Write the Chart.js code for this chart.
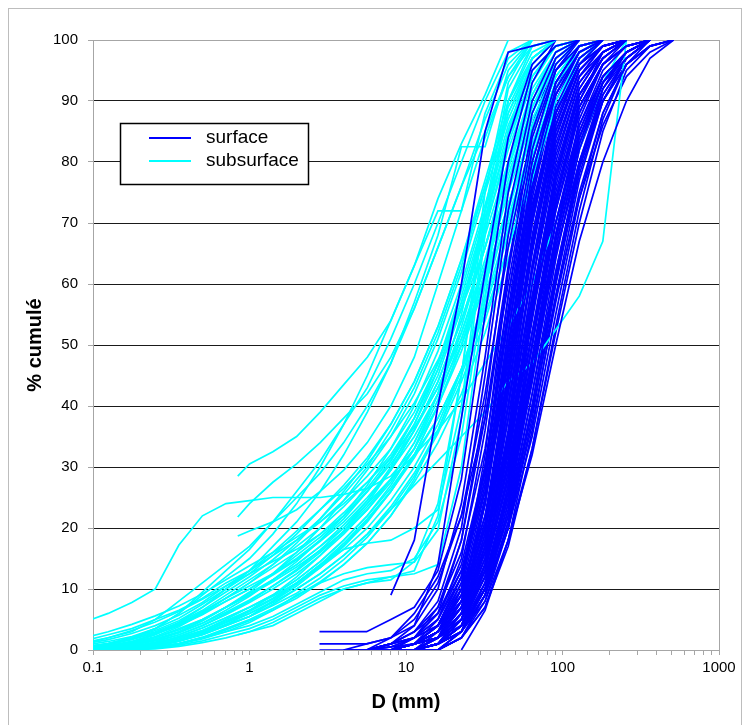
<!DOCTYPE html>
<html>
<head>
<meta charset="utf-8">
<title>Courbes granulométriques</title>
<script src="https://cdn.jsdelivr.net/npm/chart.js@4.4.1/dist/chart.umd.min.js"></script>
<style>
  html, body { margin: 0; padding: 0; background: #fff; }
  #wrap { width: 743px; height: 725px; }
</style>
</head>
<body>
<div id="wrap"><canvas id="gradChart" width="743" height="725"></canvas></div>
<script>
// Cumulative grain-size curves, surface vs subsurface samples
const _ = null;

// sieve sizes (mm)
const surfaceSizes = [2.8, 4, 5.6, 8, 11.3, 16, 22.6, 32, 45, 64, 90.5, 128, 181, 256, 362, 512];
const subsurfaceSizes = [0.088, 0.125, 0.177, 0.25, 0.354, 0.5, 0.707, 0.841, 1, 1.41, 2, 2.83, 4, 5.66, 8, 11.3, 16, 22.6, 32, 45, 64, 90.5, 128, 181, 256];

// % cumulé per surface sample (aligned on surfaceSizes)
const surfacePct = [
  [_, _, _, 9, 18, 40, 60, 85, 98, 99, 100],
  [_, _, 0, 1, 4, 14, 38, 62, 84, 96, 100],
  [3, 3, 3, 5, 7, 13, 28, 55, 80, 95, 99, 100],
  [1, 1, 1, 2, 4, 10, 24, 48, 75, 93, 100],
  [0, 0, 0, 0.5, 2, 6, 18, 40, 68, 88, 97, 100],
  [_, 0, 1, 2, 5, 11, 22, 42, 66, 85, 96, 100],
  [_, _, 0, 1, 3, 8, 20, 45, 72, 90, 98, 100],
  [_, _, 0, 0, 1, 5, 15, 36, 62, 84, 95, 99, 100],
  [_, _, _, 0, 2, 6, 14, 30, 55, 78, 92, 98, 100],
  [_, _, _, 0, 1, 4, 12, 28, 52, 76, 91, 98, 100],
  [_, 0, 0, 1, 3, 7, 16, 33, 58, 80, 93, 99, 100],
  [_, _, 0, 2, 6, 12, 22, 38, 60, 82, 95, 100],
  [_, _, _, 0, 1, 3, 9, 24, 48, 72, 89, 97, 100],
  [_, _, _, _, 0, 2, 8, 22, 45, 70, 88, 96, 99, 100],
  [_, _, _, 0, 0, 2, 7, 19, 40, 65, 85, 95, 99, 100],
  [_, _, _, _, 0, 1, 5, 16, 38, 63, 83, 94, 98, 100],
  [_, _, _, 0, 1, 3, 10, 26, 50, 73, 88, 96, 100],
  [_, _, 0, 0.5, 2, 5, 13, 29, 54, 78, 93, 99, 100],
  [_, _, _, 0, 0, 2, 6, 17, 36, 60, 80, 93, 98, 100],
  [_, _, _, _, 0, 1, 4, 14, 33, 57, 79, 92, 98, 100],
  [_, _, _, 0, 1, 2, 6, 15, 31, 54, 76, 90, 97, 100],
  [_, _, _, 0, 0, 1, 5, 13, 29, 50, 72, 88, 96, 99, 100],
  [_, _, _, _, 0, 1, 3, 10, 26, 48, 70, 86, 95, 99, 100],
  [_, _, _, 0, 1, 3, 7, 16, 30, 50, 70, 85, 94, 98, 100],
  [_, _, _, _, 0, 0, 3, 11, 24, 44, 66, 83, 93, 98, 100],
  [_, _, _, _, _, 0, 2, 8, 20, 40, 62, 80, 92, 97, 100],
  [_, _, _, _, 0, 1, 4, 12, 27, 47, 68, 84, 93, 97, 100],
  [_, _, _, _, _, _, 0, 6.5, 18, 32, 50, 67, 80, 90, 97, 100],
  [_, _, _, 0, 1, 4, 10, 22, 40, 62, 82, 94, 99, 100],
  [_, _, _, 0, 0, 2, 8, 20, 42, 67, 86, 96, 100],
  [_, _, 0, 1, 2, 4, 9, 20, 38, 58, 78, 91, 97, 100],
  [_, _, _, 0, 1, 2, 5, 12, 25, 45, 68, 87, 96, 100],
  [_, _, _, _, 0, 1, 4, 10, 22, 42, 64, 82, 93, 98, 100],
  [_, _, _, 0, 0, 3, 11, 30, 58, 82, 95, 100],
  [_, _, _, 0, 2, 7, 18, 38, 63, 85, 96, 100],
  [_, _, _, _, 0, 2, 10, 32, 62, 86, 97, 100],
  [_, _, _, _, 0, 1, 6, 24, 52, 78, 93, 99, 100],
  [_, _, _, 0, 1, 3, 8, 20, 44, 70, 88, 97, 100],
  [_, _, _, _, _, 0, 3, 14, 34, 58, 78, 91, 97, 100],
  [_, _, _, 0, 0, 1, 4, 10, 20, 35, 55, 74, 88, 96, 99, 100],
  [_, _, 0, 1, 2, 4, 8, 18, 35, 55, 74, 88, 96, 99, 100],
  [_, _, _, 0, 1, 3, 8, 18, 33, 52, 70, 84, 93, 98, 100],
  [_, _, _, _, 0, 1, 5, 15, 32, 56, 77, 91, 97, 100],
  [_, _, _, 0, 0, 2, 6, 18, 38, 62, 81, 93, 98, 100],
  [_, 0, 0, 0, 1, 4, 12, 30, 56, 80, 93, 98, 100],
  [_, _, _, 0, 1, 2, 6, 14, 28, 48, 68, 83, 93, 98, 100],
  [_, _, _, 0, 1, 3, 9, 25, 50, 75, 91, 98, 100],
  [_, _, _, _, 0, 2, 7, 21, 45, 70, 88, 97, 100],
  [_, _, 0, 0, 1, 4, 11, 27, 52, 76, 92, 99, 100],
  [_, _, _, 0, 0, 1, 5, 17, 40, 66, 86, 96, 99, 100],
  [_, _, _, _, 0, 1, 6, 19, 42, 68, 87, 96, 99, 100],
  [_, _, _, 0, 1, 3, 8, 21, 43, 67, 85, 95, 99, 100],
  [_, _, _, 0, 0, 2, 6, 16, 35, 60, 82, 94, 99, 100],
  [_, _, _, _, 0, 1, 4, 13, 31, 55, 77, 91, 97, 100],
  [_, _, _, 0, 1, 2, 5, 14, 30, 52, 74, 89, 96, 99, 100],
  [_, _, 0, 1, 2, 5, 12, 28, 50, 72, 88, 96, 100],
  [_, _, _, 0, 0, 2, 7, 20, 46, 72, 90, 98, 100],
  [_, _, _, _, 0, 0, 2, 9, 23, 45, 68, 85, 94, 98, 100],
  [_, _, _, 0, 0, 1, 3, 9, 21, 40, 61, 79, 91, 97, 100],
  [_, _, _, 0, 1, 2, 5, 13, 28, 50, 73, 90, 98, 100],
  [_, _, _, _, 0, 1, 4, 14, 36, 63, 84, 95, 99, 100],
  [_, _, 0, 0.5, 1, 3, 9, 24, 47, 71, 88, 97, 100],
  [_, _, _, 0, 1, 4, 12, 30, 54, 77, 92, 98, 100],
  [_, _, _, _, 0, 1, 3, 11, 27, 50, 73, 89, 96, 99, 100],
  [_, _, _, 0, 0, 2, 6, 15, 33, 56, 78, 92, 98, 100],
  [_, _, _, 0, 1, 3, 7, 17, 34, 55, 75, 89, 96, 99, 100],
  [_, _, _, _, 0, 2, 8, 24, 49, 74, 91, 98, 100],
  [_, _, 0, 1, 3, 6, 13, 26, 45, 66, 84, 95, 99, 100],
  [_, _, _, 0, 0, 1, 4, 12, 26, 46, 67, 84, 94, 98, 100],
  [_, _, _, _, 0, 1, 5, 17, 40, 66, 86, 96, 100],
  [_, _, _, _, 0, 1, 3, 8, 18, 33, 52, 70, 85, 95, 99, 100],
  [_, _, _, 0, 0, 1, 3, 9, 20, 37, 57, 75, 88, 96, 100],
  [_, _, _, _, _, 0, 2, 7, 17, 33, 53, 72, 87, 96, 99, 100],
  [_, _, _, 0, 1, 2, 4, 10, 22, 40, 60, 78, 90, 97, 100],
  [_, _, _, _, 0, 1, 3, 9, 21, 39, 58, 74, 86, 94, 98, 100],
  [_, _, _, _, 0, 0, 2, 7, 18, 36, 58, 77, 90, 97, 100],
  [_, _, _, 0, 0, 1, 4, 11, 25, 45, 65, 80, 91, 97, 100],
  [_, _, _, _, 0, 1, 3, 10, 23, 42, 62, 79, 90, 96, 99, 100],
  [_, _, _, _, _, 0, 3, 10, 24, 44, 66, 82, 92, 98, 100],
  [_, _, _, 0, 1, 2, 5, 12, 26, 46, 65, 80, 90, 96, 99, 100],
  [_, _, _, _, 0, 1, 4, 13, 29, 52, 72, 86, 94, 98, 100],
  [_, _, _, _, 0, 1, 3, 9, 20, 38, 60, 79, 92, 98, 100]
];

// % cumulé per subsurface sample (aligned on subsurfaceSizes)
const subsurfacePct = [
  [4.6, 6, 7.8, 10, 17.2, 22, 24, _, 24.5, 25, 25, 25, 25.5, 26.5, 28.5, 33, 42, 55, 72, 88, 97, 100],
  [_, _, _, _, _, _, _, 28.5, 30.5, 32.5, 35, 39, 43.5, 48, 54, 63, 74, 83, 91, 100],
  [_, _, _, _, _, _, _, 21.8, 24, 27.5, 30.5, 34, 38, 42, 48, 56, 66, 76, 87, 96, 100],
  [_, _, _, _, _, _, _, 18.7, 19.5, 21, 23, 26, 29.5, 34, 40, 48, 60, 72, 84, 94, 99, 100],
  [0.5, 1, 2, 3.5, 6, 9.5, 13, _, 16.5, 21, 26, 31, 37, 43, 51, 60, 70, 80, 90, 98, 100],
  [1, 2, 3, 5, 8, 11, 14, _, 17, 21, 25, 29, 34, 40, 47, 56, 66, 76, 85, 94, 100],
  [0.3, 0.8, 1.8, 3.5, 6, 9, 12, _, 15, 19, 24, 30, 37, 45, 54, 63, 72, 72, 88, 97, 100],
  [0.2, 0.5, 1.2, 2.5, 4.5, 7, 10, _, 13, 17, 21, 26, 32, 39, 47, 57, 68, 82.5, 82.5, 95, 100],
  [0, 0.3, 0.8, 1.5, 2.5, 4, 6, _, 8, 10.5, 13, 16, 19.5, 23.5, 28, 34, 42, 52, 64, 77, 89, 97, 100],
  [0.5, 1, 2, 3, 4.5, 6.5, 9, _, 11.5, 14, 17, 20, 23.5, 27.5, 32, 38, 46, 56, 68, 80, 91, 98, 100],
  [0, 0.2, 0.5, 1, 2, 3.2, 5, _, 7, 9, 11.5, 14.5, 18, 22, 27, 33, 41, 51, 63, 76, 88, 96, 100],
  [1.5, 2.5, 3.5, 5, 6.5, 8.5, 11, _, 13, 15.5, 18, 21, 24.5, 28.5, 33, 39, 47, 57, 69, 82, 93, 99, 100],
  [0, 0.2, 0.6, 1.2, 2, 3.2, 4.8, _, 6.5, 8.5, 11, 14, 17.5, 21.5, 26, 32, 40, 50, 62, 75, 87, 95, 99, 100],
  [0.2, 0.6, 1.2, 2.2, 3.8, 6, 8.5, _, 11, 13.5, 16, 19, 22.5, 26.5, 31.5, 38, 47, 58, 71, 84, 94, 99, 100],
  [0, 0, 0.2, 0.6, 1.4, 2.6, 4.2, _, 6, 8, 10.5, 13.5, 17, 21, 26, 32, 40, 50, 61, 73, 85, 94, 99, 100],
  [0.8, 1.4, 2.2, 3.5, 5.2, 7.5, 10, _, 12.5, 15.5, 19, 23, 27, 31.5, 37, 44, 53, 64, 76, 88, 96, 100],
  [0, 0.1, 0.4, 1, 1.8, 3, 4.5, _, 6, 7.8, 10, 12.5, 15.5, 19, 23.5, 29, 36, 45, 56, 69, 82, 92, 98, 100],
  [0.3, 0.7, 1.4, 2.6, 4.2, 6.3, 8.5, _, 10.5, 12.5, 15, 18, 21.5, 26, 31, 38, 47, 59, 72, 85, 95, 99, 100],
  [0, 0.3, 0.8, 1.7, 3, 4.8, 7, _, 9.5, 12.5, 16, 20, 24.5, 29.5, 35, 42, 51, 62, 75, 87, 96, 100],
  [1, 1.7, 2.7, 4, 5.7, 7.8, 10.5, _, 13, 16, 19.5, 23, 26.5, 30.5, 35, 40.5, 47.5, 56, 66, 78, 89, 96, 100],
  [0, 0, 0.1, 0.4, 1, 2, 3.3, _, 4.8, 6.5, 8.5, 11, 14, 17.5, 22, 28, 36, 46, 58, 72, 85, 94, 99, 100],
  [0.2, 0.5, 1, 1.8, 3, 4.8, 7, _, 9.3, 11.5, 14, 17, 20.5, 24.5, 29.5, 36, 44, 54, 66, 79, 90, 97, 100],
  [0, 0.2, 0.6, 1.3, 2.5, 4, 5.8, _, 7.8, 10, 12.5, 15.5, 19, 23, 28, 34, 42, 53, 66, 80, 92, 98, 100],
  [0.5, 1.1, 2, 3.2, 4.8, 7, 9.5, _, 12, 14.8, 18, 21.5, 25.5, 30, 36, 43, 52, 63, 76, 89, 97, 100],
  [0, 0.1, 0.3, 0.8, 1.6, 2.8, 4.5, _, 6.5, 9, 12, 15.5, 19.5, 24, 29.5, 36, 44, 54, 66, 79, 91, 98, 100],
  [2, 3, 4.2, 5.6, 7.2, 9.2, 11.5, _, 13.8, 16, 18.5, 21, 24, 27.5, 31.5, 36.5, 43, 51, 61, 73, 85, 94, 99, 100],
  [0, 0.2, 0.5, 1.1, 2.2, 3.6, 5.3, _, 7, 8.8, 11, 13.5, 16.5, 20, 24.5, 30, 37, 46, 57, 70, 83, 93, 98, 100],
  [0.3, 0.7, 1.4, 2.6, 4, 5.8, 8, _, 10, 12.5, 15.5, 18.5, 22, 26, 30.5, 36, 43, 52, 63, 76, 88, 96, 100],
  [0, 0.2, 0.5, 1.1, 2.2, 3.6, 5.3, _, 7, 9, 11.5, 14.5, 18, 22, 26.5, 32, 38, 46, 55, 66, 78, 89, 96, 100],
  [0.5, 1, 1.8, 2.8, 4.2, 6, 8, _, 10, 12.3, 14.8, 17.8, 21, 25, 29.5, 35, 42, 50, 60, 71, 83, 93, 98, 100],
  [0, 0.1, 0.3, 0.7, 1.5, 2.7, 4.1, _, 5.5, 7.3, 9.3, 11.8, 14.8, 18.5, 23, 28.5, 35.5, 44, 54, 66, 79, 90, 97, 100],
  [0.2, 0.5, 1, 2, 3.3, 5, 7, _, 9, 11.2, 13.6, 16.3, 19.3, 23, 27.5, 33, 40, 49, 60, 73, 86, 95, 99, 100],
  [0, 0.3, 0.8, 1.6, 2.8, 4.4, 6.5, _, 8.8, 11.5, 14.5, 18, 22, 27, 33, 40, 49, 60, 73, 86, 95, 99, 100],
  [1.2, 2, 3.2, 4.6, 6.3, 8.3, 10.5, _, 12.5, 14.5, 16.5, 19, 22, 26, 31, 37, 45, 56, 69, 83, 94, 99, 100],
  [0, 0, 0.2, 0.5, 1.1, 2.1, 3.5, _, 5, 6.8, 8.8, 11.2, 14, 17.5, 22, 27.5, 34, 42, 52, 64, 77, 89, 96, 100],
  [0.4, 0.9, 1.7, 2.8, 4.3, 6.2, 8.5, _, 11, 14, 17.5, 21.5, 26, 31, 37, 44, 53, 64, 77, 90, 97, 100],
  [0, 0.2, 0.5, 1, 1.8, 3, 4.6, _, 6.3, 8.3, 10.8, 13.8, 17.2, 21.2, 26, 31.5, 38, 46, 56, 68, 81, 92, 98, 100],
  [0.1, 0.4, 0.9, 1.7, 2.9, 4.4, 6.2, _, 8.2, 10.5, 13.2, 16.4, 20, 24.5, 30, 37, 46, 57, 70, 84, 94, 99, 100],
  [_, _, _, _, _, _, _, 2.5, 3, 4, 6, 8, 10, 11, 12, 13, 22, 45, 75, 93, 100],
  [0, 0.1, 0.3, 0.7, 1.5, 2.5, 4, _, 5.5, 8, 11, 14, 16.5, 17.5, 18, 20, 23, 40, 70, 90, 98, 100],
  [0, 0, 0.2, 0.5, 1, 2, 3, _, 4.5, 6.5, 9, 11, 12.5, 13.5, 14, 14.4, 19.7, 38, 68, 90, 99, 100],
  [0, 0.1, 0.2, 0.5, 1, 1.8, 3, _, 4, 5.5, 7.5, 9.5, 11.5, 12.5, 13, 15, 21, 35, 60, 85, 97, 100],
  [0, 0, 0, 0.2, 0.6, 1.2, 2, _, 3, 4.5, 6.5, 8.5, 10, 11, 11.5, 14.5, 24, 45, 72, 92, 99, 100],
  [0, 0, 0.1, 0.3, 0.8, 1.5, 2.5, _, 3.5, 5, 7, 9, 10.5, 11.5, 12, 12.5, 14, 30, 58, 85, 97, 100],
  [0, 0.1, 0.3, 0.8, 1.5, 2.5, 4, _, 5.5, 7.5, 10, 12.5, 15.5, 19, 23, 27, 31, 35, 39, 44, 47, 52.5, 58, 67, 100],
  [0.2, 0.5, 1, 2, 3.5, 5, 7, _, 9, 11.5, 14, 17, 20, 24, 28, 32, 36, 41, 47, 53, 60, 70, 82, 93, 100]
];

const seriesNames = ['surface', 'subsurface'];
const seriesColors = ['#0000FF', '#00FFFF'];

// x axis: labelled decades + minor ticks
const xMajorTicks = [0.1, 1, 10, 100, 1000];
const xTickLabels = ['0.1', '1', '10', '100', '1000'];

const FONT = "'Liberation Sans', Arial, sans-serif";

function toPoints(sizes, pct) {
  const pts = [];
  pct.forEach((p, i) => {
    if (p !== null && p !== undefined) pts.push({ x: sizes[i], y: p });
  });
  return pts;
}

const xTickValues = [];
xMajorTicks.forEach((d, i) => {
  xTickValues.push(d);
  if (i < xMajorTicks.length - 1) {
    for (let k = 2; k <= 9; k++) xTickValues.push(d * k);
  }
});

// interleave the two groups like the spreadsheet series order
const datasets = [];
const nMax = Math.max(surfacePct.length, subsurfacePct.length);
for (let i = 0; i < nMax; i++) {
  if (surfacePct[i]) {
    datasets.push({
      label: seriesNames[0],
      data: toPoints(surfaceSizes, surfacePct[i]),
      borderColor: seriesColors[0],
      borderWidth: 1.7,
      pointRadius: 0,
      fill: false,
      tension: 0
    });
  }
  if (subsurfacePct[i]) {
    datasets.push({
      label: seriesNames[1],
      data: toPoints(subsurfaceSizes, subsurfacePct[i]),
      borderColor: seriesColors[1],
      borderWidth: 1.7,
      pointRadius: 0,
      fill: false,
      tension: 0
    });
  }
}

// gray plot frame + outer border
const framePlugin = {
  id: 'frame',
  beforeDatasetsDraw(chart) {
    const { ctx, chartArea: a } = chart;
    ctx.save();
    ctx.strokeStyle = '#a6a6a6';
    ctx.lineWidth = 1;
    ctx.strokeRect(Math.round(a.left) + 0.5, Math.round(a.top) + 0.5,
      Math.round(a.right - a.left), Math.round(a.bottom - a.top));
    ctx.restore();
  },
  afterDraw(chart) {
    const ctx = chart.ctx;
    ctx.save();
    ctx.strokeStyle = '#bdbdbd';
    ctx.lineWidth = 1;
    ctx.strokeRect(8.5, 8.5, 733, 740);
    ctx.restore();
  }
};

// boxed legend inside the plot
const boxLegend = {
  id: 'boxLegend',
  afterDraw(chart) {
    const ctx = chart.ctx;
    ctx.save();
    ctx.fillStyle = '#fff';
    ctx.fillRect(120.5, 123.5, 188, 61);
    ctx.strokeStyle = '#000';
    ctx.lineWidth = 1.5;
    ctx.strokeRect(120.5, 123.5, 188, 61);
    const rows = [138, 161];
    seriesNames.forEach((name, i) => {
      ctx.strokeStyle = seriesColors[i];
      ctx.lineWidth = 2;
      ctx.beginPath();
      ctx.moveTo(149, rows[i]);
      ctx.lineTo(191, rows[i]);
      ctx.stroke();
      ctx.fillStyle = '#000';
      ctx.font = '19px ' + FONT;
      ctx.textBaseline = 'middle';
      ctx.fillText(name, 206, rows[i]);
    });
    ctx.restore();
  }
};

new Chart(document.getElementById('gradChart'), {
  type: 'line',
  data: { datasets },
  options: {
    responsive: false,
    animation: false,
    events: [],
    layout: { padding: { left: 0, right: 24, top: 40, bottom: 0 } },
    plugins: {
      legend: { display: false },
      tooltip: { enabled: false }
    },
    scales: {
      x: {
        type: 'logarithmic',
        min: 0.1,
        max: 1000,
        afterBuildTicks: (scale) => {
          scale.ticks = xTickValues.map(v => ({ value: v }));
        },
        afterFit: (scale) => { scale.height = 75; },
        ticks: {
          autoSkip: false,
          maxRotation: 0,
          padding: 4,
          color: '#000',
          font: { family: FONT, size: 15 },
          callback: (v) => {
            const i = xMajorTicks.indexOf(v);
            return i >= 0 ? xTickLabels[i] : '';
          }
        },
        grid: {
          drawOnChartArea: false,
          drawTicks: true,
          tickLength: 5,
          tickColor: '#a6a6a6'
        },
        border: { display: false },
        title: {
          display: true,
          text: 'D (mm)',
          color: '#000',
          font: { family: FONT, size: 20, weight: 'bold' },
          padding: { top: 0, bottom: 11 }
        }
      },
      y: {
        min: 0,
        max: 100,
        afterFit: (scale) => { scale.width = 93; },
        ticks: {
          stepSize: 10,
          padding: 10,
          color: '#000',
          font: { family: FONT, size: 15 }
        },
        grid: {
          color: (c) => (c.tick && (c.tick.value === 0 || c.tick.value === 100)) ? 'rgba(0,0,0,0)' : '#1a1a1a',
          lineWidth: 1,
          drawTicks: true,
          tickLength: 5,
          tickColor: '#a6a6a6'
        },
        border: { display: false },
        title: {
          display: true,
          text: '% cumulé',
          color: '#000',
          font: { family: FONT, size: 20, weight: 'bold' },
          padding: { top: 23, bottom: 0 }
        }
      }
    }
  },
  plugins: [framePlugin, boxLegend]
});
</script>
</body>
</html>
